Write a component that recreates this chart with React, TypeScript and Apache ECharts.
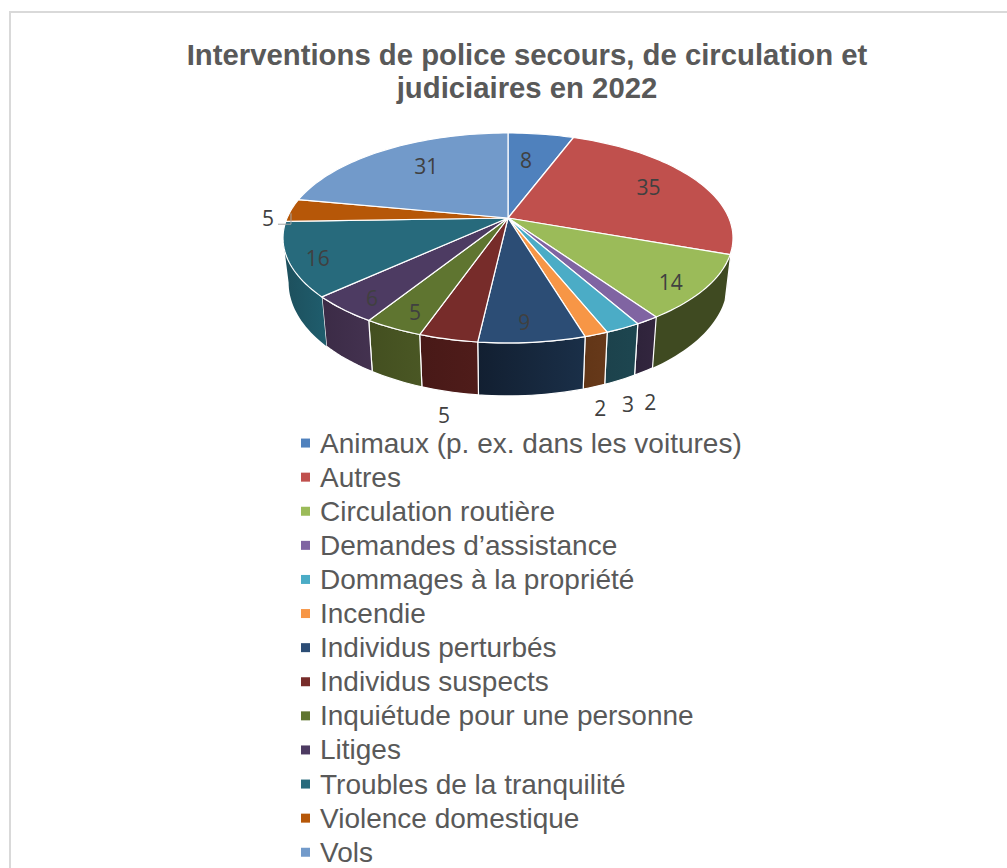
import React, { useEffect, useRef } from "react";
import * as echarts from "echarts";

const TITLE = "Interventions de police secours, de circulation et\njudiciaires en 2022";
const categories = [
  "Animaux (p. ex. dans les voitures)",
  "Autres",
  "Circulation routière",
  "Demandes d’assistance",
  "Dommages à la propriété",
  "Incendie",
  "Individus perturbés",
  "Individus suspects",
  "Inquiétude pour une personne",
  "Litiges",
  "Troubles de la tranquilité",
  "Violence domestique",
  "Vols",
];
const values = [8, 35, 14, 2, 3, 2, 9, 5, 5, 6, 16, 5, 31];
const topColors = ["#4f81bd", "#c0504d", "#9bbb59", "#8064a2", "#4bacc6", "#f79646", "#2c4d75", "#772c2a", "#5f7530", "#4d3b62", "#276a7c", "#b65708", "#729aca"];
const wallFrom = ["#2f4d71", "#73302e", "#3f4a21", "#33263f", "#1d4650", "#67391a", "#1a2f48", "#4f1c1a", "#4a5724", "#443250", "#1f5d6d", "#6d3405", "#445c79"];
const wallTo = ["#2a4566", "#672b29", "#3f4a21", "#2e233a", "#1c424c", "#623617", "#121f31", "#481917", "#434f20", "#3b2b46", "#1d4f5c", "#6d3405", "#445c79"];
// label offset from the slice's mid-rim point [dx, dy]
const labelOffsets = [[-15, 26], [-45, 8], [-35, -6], [3, 82], [5, 76], [4, 73], [-8, -20], [-4, 76], [22, -16], [29, -11], [30, -1], [-23, 8], [41, 16]];

// projective view of the pie disc
const CX = 508, CY = 218, PERSP = 0.19, BY = 101.2, BX = 220.9;
const WALL_SCALE_X = 0.975, WALL_SCALE_Y = 1.08, WALL_DROP = 43;
const WALL_START = 101, WALL_END = 259;
const rad = (d: number) => (d * Math.PI) / 180;
const total = values.reduce((a, b) => a + b, 0);
const cum: number[] = [0];
values.forEach((v, i) => cum.push(cum[i] + v));
const ang = (c: number) => (c / total) * 360;

function proj(deg: number, r = 1): [number, number] {
  const u = r * Math.sin(rad(deg));
  const v = r * Math.cos(rad(deg));
  const s = 1 / (1 + PERSP * v);
  return [CX + BX * u * s, CY - BY * v * s];
}
function projBottom(deg: number): [number, number] {
  const [x, y] = proj(deg);
  return [CX + (x - CX) * WALL_SCALE_X, CY + WALL_DROP + (y - CY) * WALL_SCALE_Y];
}
function arc(a: number, b: number, f: (d: number) => [number, number]) {
  const n = Math.max(2, Math.ceil(Math.abs(b - a) / 1.5));
  const pts: [number, number][] = [];
  for (let i = 0; i <= n; i++) pts.push(f(a + ((b - a) * i) / n));
  return pts;
}

export default function App() {
  const ref = useRef<HTMLDivElement>(null);
  useEffect(() => {
    const chart = echarts.init(ref.current!, undefined, { renderer: "svg" });
    const wallSeries = {
      type: "custom",
      name: "parois",
      coordinateSystem: "none",
      z: 1,
      silent: true,
      data: values.map((v) => [v]),
      renderItem: (p: any) => {
        const i = p.dataIndex;
        const a = Math.max(ang(cum[i]), WALL_START);
        const b = Math.min(ang(cum[i + 1]), WALL_END);
        if (b <= a) return { type: "group", children: [] };
        const pts = [...arc(a, b, (d) => proj(d)), ...arc(b, a, projBottom)];
        return {
          type: "polygon",
          shape: { points: pts },
          style: {
            fill: new echarts.graphic.LinearGradient(1, 0, 0, 0, [
              { offset: 0, color: wallFrom[i] },
              { offset: 1, color: wallTo[i] },
            ]),
            stroke: "#ffffff",
            lineWidth: i === 2 || i === 10 ? 0 : 1.2,
            lineJoin: "round",
          },
        };
      },
    };
    const topSeries = categories.map((name, i) => ({
      type: "custom",
      name,
      coordinateSystem: "none",
      z: 2,
      silent: true,
      itemStyle: { color: topColors[i] },
      data: [[values[i]]],
      renderItem: () => {
        const pts = [[CX, CY], ...arc(ang(cum[i]), ang(cum[i + 1]), (d) => proj(d))];
        return {
          type: "polygon",
          shape: { points: pts },
          style: { fill: topColors[i], stroke: "#ffffff", lineWidth: 1.2, lineJoin: "round" },
        };
      },
    }));
    const labelSeries = {
      type: "custom",
      name: "valeurs",
      coordinateSystem: "none",
      z: 3,
      silent: true,
      data: values.map((v) => [v]),
      renderItem: (p: any, api: any) => {
        const i = p.dataIndex;
        const [x, y] = proj(ang((cum[i] + cum[i + 1]) / 2));
        const [dx, dy] = labelOffsets[i];
        const text = {
          type: "text",
          style: {
            x: x + dx,
            y: y + dy,
            text: String(api.value(0)),
            fill: "#404040",
            font: '21px "Open Sans"',
            align: "center",
            verticalAlign: "middle",
          },
        };
        if (i !== 11) return text;
        return {
          type: "group",
          children: [
            {
              type: "polyline",
              shape: { points: [[x - 13, y + 14], [x, y + 14], [x, y + 3]] },
              style: { stroke: "#a6a6a6", lineWidth: 1, fill: "none" },
            },
            text,
          ],
        };
      },
    };
    chart.setOption({
      animation: false,
      backgroundColor: "#ffffff",
      title: {
        text: TITLE,
        left: 522,
        top: 33,
        textAlign: "center",
        textStyle: { fontFamily: "Liberation Sans", fontWeight: "bold", fontSize: 29.3, lineHeight: 33, color: "#595959" },
      },
      legend: {
        orient: "vertical",
        left: 301,
        top: 426,
        height: 500,
        padding: 0,
        itemGap: 0,
        itemWidth: 9,
        itemHeight: 9,
        icon: "rect",
        data: categories,
        selectedMode: false,
        textStyle: { fontFamily: "Liberation Sans", fontSize: 28, lineHeight: 34.1, color: "#595959", padding: [0, 0, 0, 5] },
      },
      graphic: [
        {
          type: "polyline",
          silent: true,
          shape: { points: [[1007, 12], [10, 12], [10, 868]] },
          style: { stroke: "#d9d9d9", lineWidth: 2, fill: "none" },
        },
      ],
      series: [wallSeries, ...topSeries, labelSeries],
    });
    return () => chart.dispose();
  }, []);
  return <div ref={ref} style={{ position: "absolute", left: 0, top: 0, width: 1007, height: 868 }} />;
}
